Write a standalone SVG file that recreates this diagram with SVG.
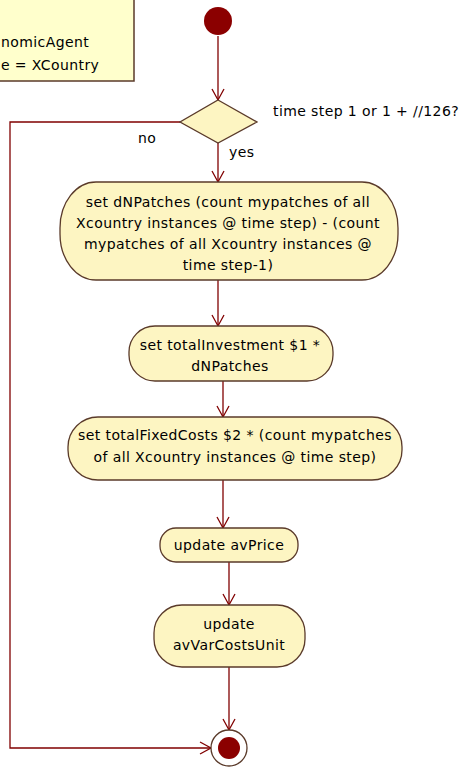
<svg xmlns="http://www.w3.org/2000/svg" width="462" height="769" viewBox="0 0 462 769">
<style>
.t{font-family:"DejaVu Sans",Verdana,sans-serif;font-size:14px;letter-spacing:0.4px;fill:#000}
.c{text-anchor:middle}
.act{fill:#fdf5c2;stroke:#5a3a2a;stroke-width:1.3}
.ln{fill:none;stroke:#800000;stroke-width:1.3}
</style>
<defs>
<marker id="ah" markerUnits="userSpaceOnUse" markerWidth="14" markerHeight="14" viewBox="-12 -7 14 14" refX="0" refY="0" orient="auto">
<path d="M-11,-6 L0,0 L-11,6" fill="none" stroke="#800000" stroke-width="1.3"/>
</marker>
</defs>
<rect width="462" height="769" fill="#fff"/>
<g id="note">
<rect x="-5" y="-5" width="139" height="86" fill="#ffffcc" stroke="#5a3a2a" stroke-width="1.5"/>
<text class="t" x="1" y="47">nomicAgent</text>
<text class="t" x="1" y="70">e = XCountry</text>
</g>
<g id="connectors">
<path class="ln" d="M218,36 V100" marker-end="url(#ah)"/>
<path class="ln" d="M218,143 V182" marker-end="url(#ah)"/>
<path class="ln" d="M218,280 V326" marker-end="url(#ah)"/>
<path class="ln" d="M223,381 V417" marker-end="url(#ah)"/>
<path class="ln" d="M223,480 V528" marker-end="url(#ah)"/>
<path class="ln" d="M229,562 V605" marker-end="url(#ah)"/>
<path class="ln" d="M229,667 V730" marker-end="url(#ah)"/>
<path class="ln" d="M180,122 H10 V748 H211" marker-end="url(#ah)"/>
<text class="t" x="138" y="143">no</text>
<text class="t" x="229" y="157">yes</text>
</g>
<g id="start">
<circle cx="218" cy="21" r="14" fill="#8b0000"/>
</g>
<g id="decision">
<polygon class="act" points="218,100 257,122 218,143 180,122"/>
<text class="t" x="273" y="116">time step 1 or 1 + //126?</text>
</g>
<g id="setDNPatches">
<rect class="act" x="60" y="182" width="338" height="98" rx="36" ry="46"/>
<text class="t c" x="228" y="207">set dNPatches (count mypatches of all</text>
<text class="t c" x="228" y="228">Xcountry instances @ time step) - (count</text>
<text class="t c" x="228" y="249">mypatches of all Xcountry instances @</text>
<text class="t c" x="228" y="270">time step-1)</text>
</g>
<g id="setTotalInvestment">
<rect class="act" x="129" y="326" width="204" height="55" rx="26" ry="26"/>
<text class="t c" x="230" y="350">set totalInvestment $1 *</text>
<text class="t c" x="230" y="371">dNPatches</text>
</g>
<g id="setTotalFixedCosts">
<rect class="act" x="68" y="417" width="334" height="63" rx="30" ry="30"/>
<text class="t c" x="235" y="440">set totalFixedCosts $2 * (count mypatches</text>
<text class="t c" x="235" y="462">of all Xcountry instances @ time step)</text>
</g>
<g id="updateAvPrice">
<rect class="act" x="160" y="528" width="138" height="34" rx="16" ry="16"/>
<text class="t c" x="229" y="550">update avPrice</text>
</g>
<g id="updateAvVarCostsUnit">
<rect class="act" x="154" y="605" width="151" height="62" rx="28" ry="28"/>
<text class="t c" x="229" y="629">update</text>
<text class="t c" x="229" y="650">avVarCostsUnit</text>
</g>
<g id="final">
<circle cx="229" cy="748" r="18" fill="#fff" stroke="#5a3a2a" stroke-width="1.3"/>
<circle cx="229" cy="748" r="11" fill="#8b0000"/>
</g>
</svg>
